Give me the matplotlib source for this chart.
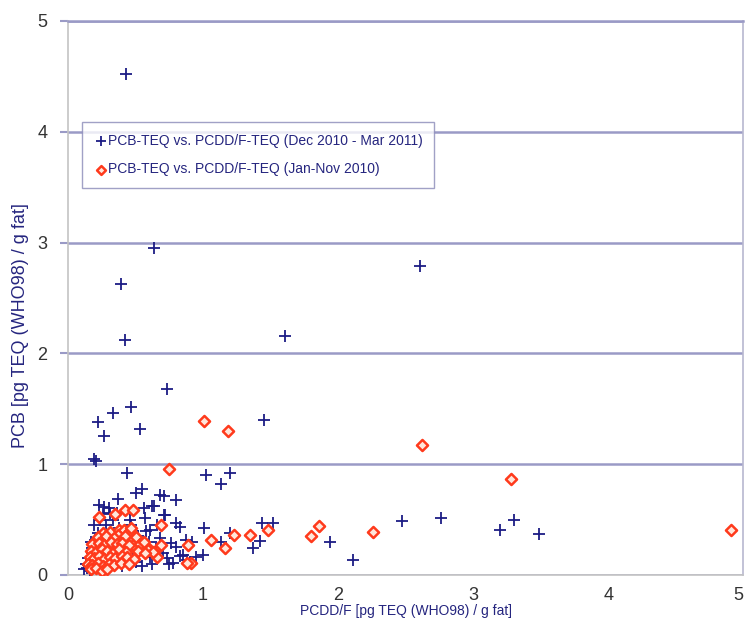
import matplotlib
matplotlib.use("Agg")
import matplotlib.pyplot as plt

# Dec 2010 - Mar 2011 samples (PCDD/F-TEQ, PCB-TEQ)
blue_x = [
    0.43, 0.64, 0.39, 0.42, 1.61, 2.61, 0.73, 0.47, 0.33, 0.22, 0.27, 0.53,
    0.19, 0.21, 1.45, 0.44, 1.02, 1.20, 1.13, 0.50, 0.55, 0.37, 0.68, 0.71,
    0.80, 0.64, 0.23, 0.27, 0.62, 0.71, 0.57, 0.80, 1.01, 1.94, 2.11, 2.47,
    2.76, 3.20, 3.30, 3.49, 1.13, 1.20, 1.37, 1.42, 1.44, 1.52, 0.85, 0.95,
    1.00, 0.87, 0.92, 0.83, 0.31, 0.36, 0.46, 0.72, 0.61, 0.48, 0.20, 0.175,
    0.53, 0.68, 0.76, 0.83, 0.48, 0.61, 0.73, 0.15, 0.14, 0.26, 0.36, 0.78,
    0.88, 0.15, 0.18, 0.20, 0.25, 0.30, 0.28, 0.33, 0.22, 0.38, 0.42, 0.45,
    0.50, 0.55, 0.60, 0.65, 0.35, 0.40, 0.24, 0.19, 0.13, 0.17, 0.30, 0.26,
    0.58, 0.66, 0.70, 0.75, 0.52, 0.47, 0.62, 0.80, 0.90, 0.56, 0.12, 0.16,
]
blue_y = [
    4.52, 2.95, 2.63, 2.12, 2.16, 2.79, 1.68, 1.52, 1.46, 1.38, 1.25, 1.32,
    1.05, 1.03, 1.40, 0.92, 0.90, 0.92, 0.82, 0.74, 0.78, 0.69, 0.72, 0.71,
    0.68, 0.62, 0.63, 0.615, 0.62, 0.54, 0.51, 0.47, 0.42, 0.30, 0.135, 0.49,
    0.51, 0.41, 0.50, 0.37, 0.30, 0.38, 0.24, 0.31, 0.47, 0.47, 0.18, 0.16,
    0.18, 0.32, 0.30, 0.43, 0.56, 0.56, 0.50, 0.54, 0.41, 0.375, 0.315, 0.24,
    0.255, 0.33, 0.285, 0.17, 0.15, 0.165, 0.15, 0.09, 0.06, 0.09, 0.105, 0.105,
    0.135, 0.15, 0.20, 0.12, 0.28, 0.35, 0.45, 0.50, 0.38, 0.42, 0.30, 0.20,
    0.12, 0.08, 0.30, 0.25, 0.22, 0.08, 0.50, 0.45, 0.10, 0.30, 0.60, 0.55,
    0.40, 0.45, 0.20, 0.10, 0.35, 0.45, 0.10, 0.25, 0.12, 0.60, 0.05, 0.04,
]

# Jan-Nov 2010 samples
red_x = [
    1.005, 1.185, 0.75, 2.62, 3.28, 4.91, 1.80, 1.86, 2.26, 1.06, 1.16, 1.23,
    1.35, 1.48, 0.89, 0.91, 0.42, 0.48, 0.23, 0.35, 0.69, 0.26, 0.31, 0.38,
    0.415, 0.46, 0.37, 0.61, 0.64, 0.66, 0.69, 0.88, 0.47, 0.48, 0.595, 0.63,
    0.22, 0.28, 0.34, 0.42, 0.50,
    0.18, 0.23, 0.27, 0.32, 0.36, 0.40, 0.45, 0.53, 0.56,
    0.17, 0.21, 0.25, 0.29, 0.33, 0.38, 0.43, 0.52, 0.57,
    0.16, 0.19, 0.23, 0.27, 0.31, 0.35, 0.40, 0.44, 0.49,
    0.15, 0.18, 0.22, 0.26, 0.30, 0.34, 0.39, 0.45,
    0.17, 0.21, 0.25, 0.29,
]
red_y = [
    1.39, 1.30, 0.96, 1.17, 0.87, 0.41, 0.35, 0.44, 0.39, 0.32, 0.24, 0.36,
    0.36, 0.41, 0.27, 0.105, 0.585, 0.585, 0.52, 0.55, 0.45, 0.38, 0.39, 0.41,
    0.405, 0.40, 0.36, 0.225, 0.21, 0.165, 0.27, 0.105, 0.42, 0.27, 0.225, 0.21,
    0.34, 0.35, 0.33, 0.35, 0.34,
    0.28, 0.29, 0.27, 0.30, 0.28, 0.29, 0.27, 0.28, 0.30,
    0.22, 0.21, 0.23, 0.22, 0.20, 0.23, 0.21, 0.22, 0.20,
    0.16, 0.15, 0.17, 0.14, 0.16, 0.15, 0.17, 0.16, 0.14,
    0.10, 0.09, 0.11, 0.08, 0.10, 0.09, 0.11, 0.10,
    0.05, 0.06, 0.04, 0.05,
]

ticks = [0, 1, 2, 3, 4, 5]
label_blue = "PCB-TEQ vs. PCDD/F-TEQ (Dec 2010 - Mar 2011)"
label_red = "PCB-TEQ vs. PCDD/F-TEQ (Jan-Nov 2010)"

sans = ["Liberation Sans", "DejaVu Sans"]
navy = "#25257f"
grid_c = "#9a9ac6"

fig = plt.figure(figsize=(7.46, 6.26), dpi=100)
ax = fig.add_axes([0.0912, 0.0815, 0.905, 0.885])

ax.scatter(blue_x, blue_y, marker="+", s=70, color="#1c1c85", linewidths=1.3,
           label=label_blue, zorder=3)
ax.scatter(red_x, red_y, marker="D", s=32, facecolor="#ffe6da", edgecolor="#ff3a1c",
           linewidths=1.8, label=label_red, zorder=4)

ax.set_xlim(0, 5)
ax.set_ylim(0, 5)
ax.set_xticks(ticks)
ax.set_yticks(ticks)
ax.grid(axis="y", color=grid_c, linewidth=1.8, zorder=1)
ax.set_axisbelow(True)

for side in ["left", "bottom"]:
    ax.spines[side].set_color("#c4c4c4")
    ax.spines[side].set_linewidth(1.2)
ax.spines["right"].set_color("#b8b8d0")
ax.spines["right"].set_linewidth(1.2)
ax.spines["top"].set_color(grid_c)
ax.spines["top"].set_linewidth(1.8)

ax.tick_params(axis="y", direction="out", length=6, width=1.5, color=grid_c, pad=9,
               labelsize=13, labelcolor="#333333")
ax.tick_params(axis="x", length=0, pad=9, labelsize=13, labelcolor="#333333")
for lab in ax.get_xticklabels() + ax.get_yticklabels():
    lab.set_family(sans)
ax.get_xticklabels()[-1].set_horizontalalignment("right")

ax.set_xlabel("PCDD/F [pg TEQ (WHO98) / g fat]", family=sans, fontsize=10,
              color=navy, labelpad=0)
ax.set_ylabel("PCB [pg TEQ (WHO98) / g fat]", family=sans, fontsize=13, color=navy)
ax.yaxis.set_label_coords(-0.058, 0.45)

leg = ax.legend(loc="upper left", bbox_to_anchor=(0.021, 0.818), frameon=True,
                fancybox=False, prop={"family": sans, "size": 10},
                handletextpad=0.0, handlelength=1.0, borderpad=0.85,
                labelspacing=1.05, borderaxespad=0, markerscale=0.8)
leg.get_frame().set_edgecolor("#8a8ab8")
leg.get_frame().set_linewidth(1.0)
for t in leg.get_texts():
    t.set_color(navy)

fig.savefig("out.png", dpi=100, facecolor="white")
